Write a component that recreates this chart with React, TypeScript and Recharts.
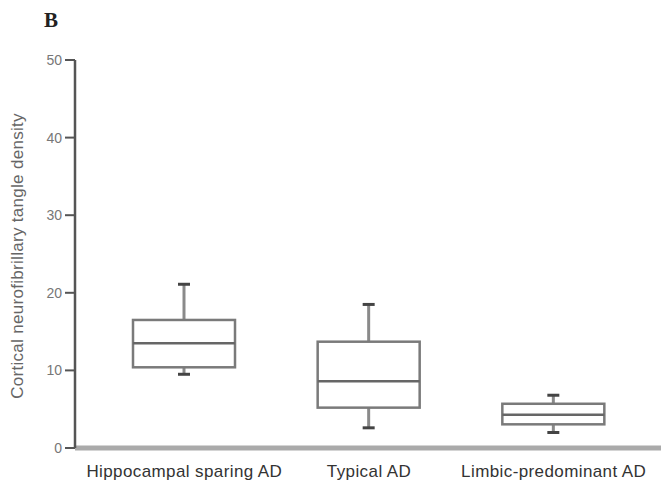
import React from 'react';
import { ComposedChart, Bar, XAxis, YAxis, Label } from 'recharts';

// five-number summaries
const categories = ['Hippocampal sparing AD', 'Typical AD', 'Limbic-predominant AD'];
const whiskerLow = [9.5, 2.6, 2.0];
const q1 = [10.4, 5.2, 3.05];
const median = [13.5, 8.6, 4.3];
const q3 = [16.5, 13.7, 5.7];
const whiskerHigh = [21.1, 18.5, 6.8];
const yTicks = [0, 10, 20, 30, 40, 50];

const data = categories.map((name, i) => ({
  name,
  range: [whiskerLow[i], whiskerHigh[i]],
  lo: whiskerLow[i],
  q1: q1[i],
  med: median[i],
  q3: q3[i],
  hi: whiskerHigh[i],
}));

const BoxShape = (props: any) => {
  const { x, y, width, height, payload } = props;
  const { lo, hi } = payload;
  // bar spans lo..hi, so map other values linearly within it
  const yOf = (v: number) => y + (height * (hi - v)) / (hi - lo);
  const cx = x + width / 2;
  const top = yOf(payload.q3);
  const bot = yOf(payload.q1);
  return (
    <g>
      <line x1={cx} x2={cx} y1={yOf(hi)} y2={top} stroke="#8a8a8a" strokeWidth={3} />
      <line x1={cx} x2={cx} y1={bot} y2={yOf(lo)} stroke="#8a8a8a" strokeWidth={3} />
      <line x1={cx - 6} x2={cx + 6} y1={yOf(hi)} y2={yOf(hi)} stroke="#444" strokeWidth={3} />
      <line x1={cx - 6} x2={cx + 6} y1={yOf(lo)} y2={yOf(lo)} stroke="#444" strokeWidth={3} />
      <rect x={x} y={top} width={width} height={bot - top} fill="#fff" stroke="#7a7a7a" strokeWidth={2.5} />
      <line x1={x} x2={x + width} y1={yOf(payload.med)} y2={yOf(payload.med)} stroke="#666" strokeWidth={2.5} />
    </g>
  );
};

const YLabel = () => (
  <text
    x={19}
    y={256}
    transform="rotate(-90, 19, 256)"
    textAnchor="middle"
    dominantBaseline="middle"
    fill="#666"
    fontSize={17}
    letterSpacing={0.3}
    fontFamily="Liberation Sans, Arial, sans-serif"
  >
    Cortical neurofibrillary tangle density
  </text>
);

export default function App() {
  return (
    <div style={{ position: 'absolute', left: 0, top: 0, width: 661, height: 488, background: '#fff' }}>
      <div
        style={{
          position: 'absolute',
          left: 44,
          top: 8,
          fontFamily: 'Liberation Serif, serif',
          fontWeight: 'bold',
          fontSize: 21,
          color: '#222',
        }}
      >
        B
      </div>
      <ComposedChart width={661} height={488} data={data} margin={{ top: 60, right: 0, bottom: 10, left: 0 }}>
        <XAxis
          dataKey="name"
          padding={{ left: 17, right: 15 }}
          axisLine={{ stroke: '#aaa', strokeWidth: 5 }}
          tickLine={false}
          tickSize={8}
          tickMargin={9}
          height={30}
          interval={0}
          tick={{ fill: '#333', fontSize: 17, letterSpacing: 0.4, fontFamily: 'Liberation Sans, Arial, sans-serif' }}
        />
        <YAxis
          width={75}
          domain={[0, 50]}
          ticks={yTicks}
          axisLine={{ stroke: '#555', strokeWidth: 2.5 }}
          tickLine={{ stroke: '#555', strokeWidth: 2 }}
          tickSize={10}
          tickMargin={3}
          tick={{ fill: '#777', fontSize: 14, fontFamily: 'Liberation Sans, Arial, sans-serif' }}
        >
          <Label content={<YLabel />} />
        </YAxis>
        <Bar dataKey="range" barSize={102} shape={<BoxShape />} isAnimationActive={false} />
      </ComposedChart>
    </div>
  );
}
